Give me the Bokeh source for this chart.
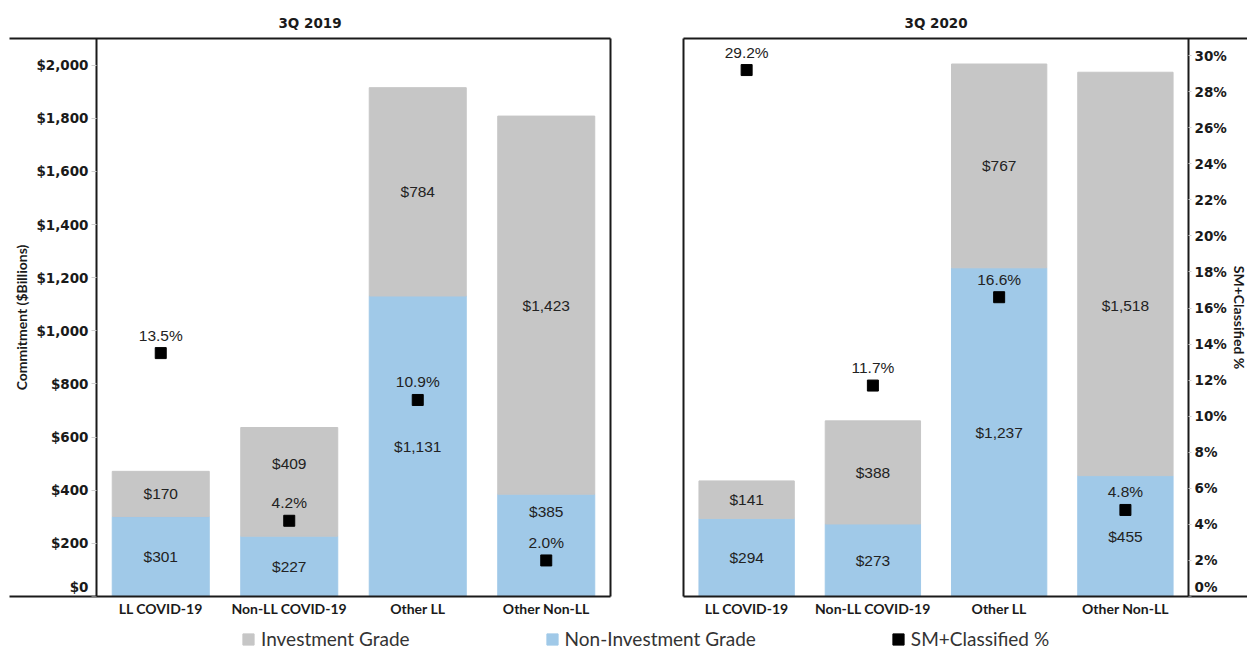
from bokeh.plotting import figure
from bokeh.models import (ColumnDataSource, Range1d, LinearAxis,
                          NumeralTickFormatter, PrintfTickFormatter, FixedTicker,
                          Legend, LegendItem)
from bokeh.layouts import column, row
from bokeh.embed import file_html
from bokeh.resources import INLINE
from bokeh.core.properties import value

# ---------------- data ----------------
categories = ["LL COVID-19", "Non-LL COVID-19", "Other LL", "Other Non-LL"]

ig_2019 = [170, 409, 784, 1423]      # Investment Grade ($B)
nig_2019 = [301, 227, 1131, 385]     # Non-Investment Grade ($B)
pct_2019 = [13.5, 4.2, 10.9, 2.0]    # SM+Classified %

ig_2020 = [141, 388, 767, 1518]
nig_2020 = [294, 273, 1237, 455]
pct_2020 = [29.2, 11.7, 16.6, 4.8]

dollar_ticks = list(range(0, 2001, 200))
pct_ticks = list(range(0, 31, 2))
legend_labels = ["Investment Grade", "Non-Investment Grade", "SM+Classified %"]
panel_titles = ["3Q 2019", "3Q 2020"]

# ---------------- styling ----------------
GRAY = "#C6C6C6"
BLUE = "#A0C9E8"
DARK = "#1a1a1a"
TICK_GRAY = "#d0d0d0"
LABEL_FONT = value("Liberation Sans")
TICK_FONT = value("DejaVu Sans")
# pixel nudges of the value labels (style only)
ig_dy_2019 = [0, -18, 0, 0]
nig_dy_2019 = [0, 0, 0, -34]
ig_dy_2020 = [0, 0, 0, 32]
nig_dy_2020 = [0, 0, 0, 0]

Y_MAX = 2100
PCT_MAX = 30.95
TOP = 38
FRAME_H = 558
BOTTOM = 30
FIG_H = TOP + FRAME_H + BOTTOM

xpos = list(range(len(categories)))
cat_overrides = {i: c for i, c in enumerate(categories)}


def border_axis(**kw):
    ax = LinearAxis(ticker=FixedTicker(ticks=[]), **kw)
    ax.axis_line_color = DARK
    ax.axis_line_width = 2
    ax.major_tick_out = 0
    ax.major_tick_in = 0
    ax.major_label_standoff = 0
    ax.major_tick_line_color = None
    ax.minor_tick_line_color = None
    ax.major_label_text_font_size = "0px"
    return ax


def style_value_axis(ax, size="13.5px"):
    ax.axis_line_color = DARK
    ax.axis_line_width = 2
    ax.major_tick_line_color = TICK_GRAY
    ax.major_tick_out = 5
    ax.major_tick_in = 0
    ax.minor_tick_line_color = None
    ax.major_label_text_font = "DejaVu Sans"
    ax.major_label_text_font_style = "bold"
    ax.major_label_text_font_size = size
    ax.major_label_text_color = DARK
    ax.major_label_standoff = 3
    ax.axis_label_text_font = "Lato"
    ax.axis_label_text_font_style = "bold"
    ax.axis_label_text_color = DARK


def make_panel(title, ig, nig, pct, ig_dy, nig_dy, x_start, x_end, width, mbl, mbr):
    src = ColumnDataSource(dict(
        x=xpos,
        ig=ig, nig=nig, pct=pct,
        nig_mid=[n / 2 for n in nig],
        ig_mid=[n + i / 2 for n, i in zip(nig, ig)],
        ig_lbl=[f"${v:,}" for v in ig],
        nig_lbl=[f"${v:,}" for v in nig],
        pct_lbl=[f"{v:.1f}%" for v in pct],
        ig_dy=ig_dy, nig_dy=nig_dy,
    ))
    p = figure(x_range=Range1d(x_start, x_end), y_range=Range1d(0, Y_MAX),
               width=width, height=FIG_H,
               min_border_left=mbl, min_border_right=mbr,
               min_border_top=TOP, min_border_bottom=BOTTOM,
               output_backend="svg", toolbar_location=None,
               x_axis_location=None, y_axis_location=None)
    p.extra_y_ranges = {"pct": Range1d(0, PCT_MAX)}
    p.grid.visible = False
    p.outline_line_color = None
    p.background_fill_color = "white"

    p.vbar_stack(["nig", "ig"], x="x", width=0.755, color=[BLUE, GRAY], source=src)

    for ycol, tcol, dcol in (("nig_mid", "nig_lbl", "nig_dy"), ("ig_mid", "ig_lbl", "ig_dy")):
        p.text(x="x", y=ycol, text=tcol, y_offset=dcol, source=src,
               text_align="center", text_baseline="middle", text_font=LABEL_FONT,
               text_font_size="15.5px", text_color="#222222")

    p.scatter(x="x", y="pct", y_range_name="pct", marker="square", size=11,
              color="black", source=src)
    p.text(x="x", y="pct", text="pct_lbl", y_range_name="pct", y_offset=-18,
           source=src, text_align="center", text_baseline="middle",
           text_font=LABEL_FONT, text_font_size="15.5px", text_color="#222222")

    xa = LinearAxis(ticker=FixedTicker(ticks=xpos), major_label_overrides=cat_overrides)
    xa.axis_line_color = DARK
    xa.axis_line_width = 2
    xa.major_tick_line_color = None
    xa.major_tick_out = 0
    xa.major_tick_in = 0
    xa.minor_tick_line_color = None
    xa.major_label_text_font = "Lato"
    xa.major_label_text_font_style = "bold"
    xa.major_label_text_font_size = "14px"
    xa.major_label_text_color = DARK
    xa.major_label_standoff = 3
    p.add_layout(xa, "below")

    p.add_layout(border_axis(), "above")

    p.title.text = title
    p.title.text_font = "DejaVu Sans"
    p.title.text_font_style = "bold"
    p.title.text_font_size = "13.5px"
    p.title.text_color = DARK
    p.title.standoff = 16
    return p


# ---- left panel: 3Q 2019 ----
p1 = make_panel(panel_titles[0], ig_2019, nig_2019, pct_2019, ig_dy_2019, nig_dy_2019,
                -1.177, 3.5, 630, 9, 20)
ya = LinearAxis(fixed_location=-0.5, ticker=FixedTicker(ticks=dollar_ticks),
                formatter=NumeralTickFormatter(format="$0,0"),
                major_label_overrides={dollar_ticks[0]: ""},
                axis_label="Commitment ($Billions)")
style_value_axis(ya)
ya.axis_label_text_font_size = "14px"
ya.axis_label_standoff = 3
p1.add_layout(ya, "left")
p1.add_layout(border_axis(), "right")
p1.title.align = "center"
# the lowest tick label sits just above the baseline, as in the original
p1.text(x=[-0.5], y=[dollar_ticks[0]], text=[f"${dollar_ticks[0]}"],
        x_offset=-8, y_offset=-10, text_align="right", text_baseline="middle",
        text_font=TICK_FONT, text_font_style="bold", text_font_size="13.5px",
        text_color=DARK)

# ---- right panel: 3Q 2020 ----
p2 = make_panel(panel_titles[1], ig_2020, nig_2020, pct_2020, ig_dy_2020, nig_dy_2020,
                -0.5, 3.967, 617, 53, 0)
p2.add_layout(border_axis(), "left")
ra = LinearAxis(y_range_name="pct", fixed_location=3.5,
                ticker=FixedTicker(ticks=pct_ticks),
                formatter=PrintfTickFormatter(format="%d%%"),
                major_label_overrides={pct_ticks[0]: ""},
                axis_label="SM+Classified %")
style_value_axis(ra)
ra.major_tick_out = 3
ra.major_label_standoff = 3
ra.axis_label_text_font_size = "14px"
ra.axis_label_standoff = 1
p2.add_layout(ra, "right")
p2.title.align = "left"
p2.title.offset = 221
p2.text(x=[3.5], y=[pct_ticks[0]], text=[f"{pct_ticks[0]}%"], y_range_name="pct",
        x_offset=6, y_offset=-10, text_align="left", text_baseline="middle",
        text_font=TICK_FONT, text_font_style="bold", text_font_size="13.5px",
        text_color=DARK)

# ---------------- legend strip ----------------
p3 = figure(width=1247, height=24, min_border=0, toolbar_location=None,
            output_backend="svg", x_range=Range1d(0, 1), y_range=Range1d(0, 1),
            x_axis_location=None, y_axis_location=None)
p3.outline_line_color = None
p3.grid.visible = False
r_ig = p3.vbar(x=[10], top=[10], width=0.1, color=GRAY)
r_nig = p3.vbar(x=[10], top=[10], width=0.1, color=BLUE)
r_pct = p3.vbar(x=[10], top=[10], width=0.1, color="black")
leg = Legend(items=[LegendItem(label=legend_labels[0], renderers=[r_ig]),
                    LegendItem(label=legend_labels[1], renderers=[r_nig]),
                    LegendItem(label=legend_labels[2], renderers=[r_pct])],
             orientation="horizontal", location=(241, 0), margin=0, padding=0,
             spacing=135, label_standoff=6, glyph_width=14, glyph_height=14,
             label_text_font="Lato", label_text_font_size="19px",
             label_text_color="#333333", border_line_color=None,
             background_fill_alpha=0)
p3.add_layout(leg, "center")

layout = column(row(p1, p2), p3)
open("out.html", "w").write(file_html(layout, INLINE))
